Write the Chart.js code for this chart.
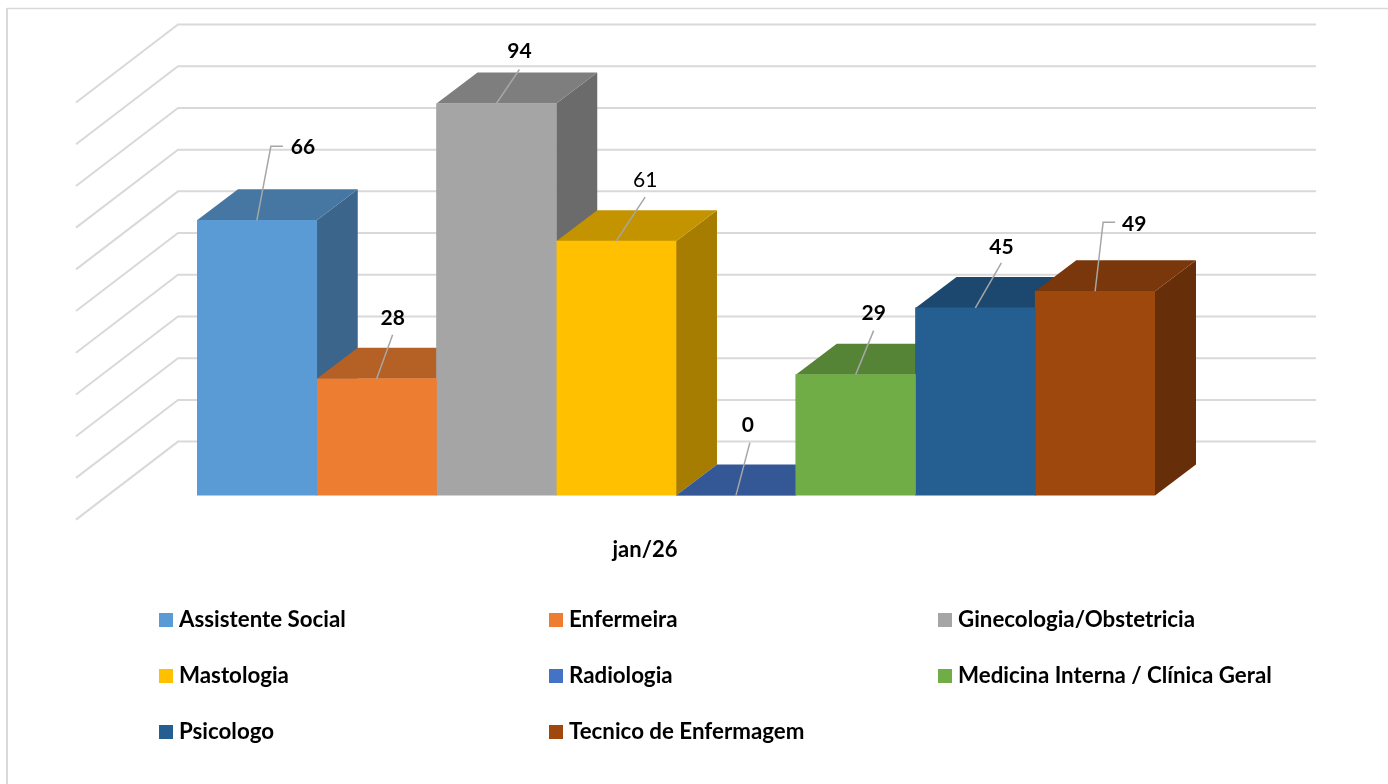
<!DOCTYPE html>
<html>
<head>
<meta charset="utf-8">
<style>
    html, body { margin: 0; padding: 0; background: #fff; }
    canvas { display: block; }
</style>
<script src="https://cdn.jsdelivr.net/npm/chart.js@4"></script>
</head>
<body>
<canvas id="chart" width="1388" height="784"></canvas>
<script>
const categories = ['jan/26'];
const specialties = [
    'Assistente Social', 'Enfermeira', 'Ginecologia/Obstetricia', 'Mastologia',
    'Radiologia', 'Medicina Interna / Clínica Geral', 'Psicologo', 'Tecnico de Enfermagem'
];
const counts = [66, 28, 94, 61, 0, 29, 45, 49];
const colors = ['#5B9BD5', '#ED7D31', '#A5A5A5', '#FFC000', '#4472C4', '#70AD47', '#255E91', '#9E480E'];

// leader line: elbow relative to the top of the bar, then text centre
const leaderEnds = [[14, -74], [16, -44], [23, -34], [29, -44], [14, -53], [18, -44], [26, -45], [8, -69]];
const leaderTails = [12, 0, 0, 0, 0, 0, 0, 12];
const labelCentres = [[46, -73], [16, -61], [23, -52], [29, -61], [12, -70], [18, -61], [26, -61], [39, -67]];
const plainLabels = [false, false, false, true, false, false, false, false];

const FONT = 'Lato, Carlito, sans-serif';
const GRID = '#d9d9d9';
const DEPTH_X = 41, DEPTH_Y = 31;   // bar depth
const WALL_X = 178, WALL_RIGHT = 1316, WALL_UP = 54;
const FLOOR_X = 76, FLOOR_DOWN = 24;

const shade = (hex, f) => {
    const n = parseInt(hex.slice(1), 16);
    return `rgb(${Math.round((n >> 16) * f)},${Math.round(((n >> 8) & 255) * f)},${Math.round((n & 255) * f)})`;
};

const poly = (ctx, pts, fill) => {
    ctx.beginPath();
    pts.forEach((p, i) => i ? ctx.lineTo(p[0], p[1]) : ctx.moveTo(p[0], p[1]));
    ctx.closePath();
    ctx.fillStyle = fill;
    ctx.fill();
};

const box3d = {
    id: 'box3d',
    beforeDatasetsDraw(chart) {
        const ctx = chart.ctx;
        const y = chart.scales.y;
        ctx.save();

        // frame
        ctx.strokeStyle = GRID;
        ctx.lineWidth = 1.5;
        ctx.beginPath();
        ctx.moveTo(1388, 8.5);
        ctx.lineTo(7, 8.5);
        ctx.stroke();
        ctx.lineWidth = 2;
        ctx.beginPath();
        ctx.moveTo(7, 8);
        ctx.lineTo(7, 784);
        ctx.stroke();

        // walls
        ctx.lineWidth = 2;
        y.ticks.forEach(t => {
            const py = y.getPixelForValue(t.value);
            ctx.beginPath();
            ctx.moveTo(FLOOR_X, py + FLOOR_DOWN);
            ctx.lineTo(WALL_X, py - WALL_UP);
            ctx.lineTo(WALL_RIGHT, py - WALL_UP);
            ctx.stroke();
        });

        // side and top, left to right, the fronts are drawn over them by the library
        chart.data.datasets.forEach((ds, i) => {
            const bar = chart.getDatasetMeta(i).data[0];
            const l = bar.x - bar.width / 2, r = bar.x + bar.width / 2;
            const top = bar.y, base = bar.base;
            poly(ctx, [[r, top], [r + DEPTH_X, top - DEPTH_Y], [r + DEPTH_X, base - DEPTH_Y], [r, base]], shade(colors[i], 0.65));
            poly(ctx, [[l, top], [l + DEPTH_X, top - DEPTH_Y], [r + DEPTH_X, top - DEPTH_Y], [r, top]], shade(colors[i], 0.765));
        });
        ctx.restore();
    },
    afterDatasetsDraw(chart) {
        const ctx = chart.ctx;
        ctx.save();

        // data labels with leader lines
        chart.data.datasets.forEach((ds, i) => {
            const bar = chart.getDatasetMeta(i).data[0];
            const ex = bar.x + leaderEnds[i][0], ey = bar.y + leaderEnds[i][1];
            ctx.strokeStyle = '#a6a6a6';
            ctx.lineWidth = 1.5;
            ctx.beginPath();
            ctx.moveTo(bar.x, bar.y);
            ctx.lineTo(ex, ey);
            if (leaderTails[i]) ctx.lineTo(ex + leaderTails[i], ey);
            ctx.stroke();

            ctx.fillStyle = '#000';
            ctx.font = `${plainLabels[i] ? 400 : 700} 21px ${FONT}`;
            ctx.textAlign = 'center';
            ctx.textBaseline = 'middle';
            ctx.fillText(String(ds.data[0]), bar.x + labelCentres[i][0], bar.y + labelCentres[i][1]);
        });

        // legend in three columns
        const colX = [159, 549, 938], rowY = [613, 669, 725];
        chart.data.datasets.forEach((ds, i) => {
            const x = colX[i % 3], yy = rowY[Math.floor(i / 3)];
            ctx.fillStyle = ds.backgroundColor;
            ctx.fillRect(x, yy, 14, 14);
            ctx.fillStyle = '#000';
            ctx.font = `700 22.3px ${FONT}`;
            ctx.textAlign = 'left';
            ctx.textBaseline = 'middle';
            ctx.fillText(ds.label, x + 20, yy + 7);
        });
        ctx.restore();
    }
};

new Chart(document.getElementById('chart'), {
    type: 'bar',
    data: {
        labels: categories,
        datasets: specialties.map((name, i) => ({
            label: name,
            data: [counts[i]],
            backgroundColor: colors[i],
            borderWidth: 0,
            barPercentage: 1,
            categoryPercentage: 1,
        })),
    },
    options: {
        responsive: false,
        animation: false,
        layout: { padding: { left: 197, right: 233, top: 78.5, bottom: 188 } },
        plugins: { legend: { display: false }, tooltip: { enabled: false } },
        scales: {
            x: {
                grid: { display: false },
                border: { display: false },
                ticks: {
                    color: '#000',
                    font: { family: FONT, size: 22, weight: '700' },
                    labelOffset: -31,
                    padding: 33,
                },
            },
            y: {
                display: false,
                min: 0,
                max: 100,
                ticks: { stepSize: 10 },
            },
        },
    },
    plugins: [box3d],
});
</script>
</body>
</html>
